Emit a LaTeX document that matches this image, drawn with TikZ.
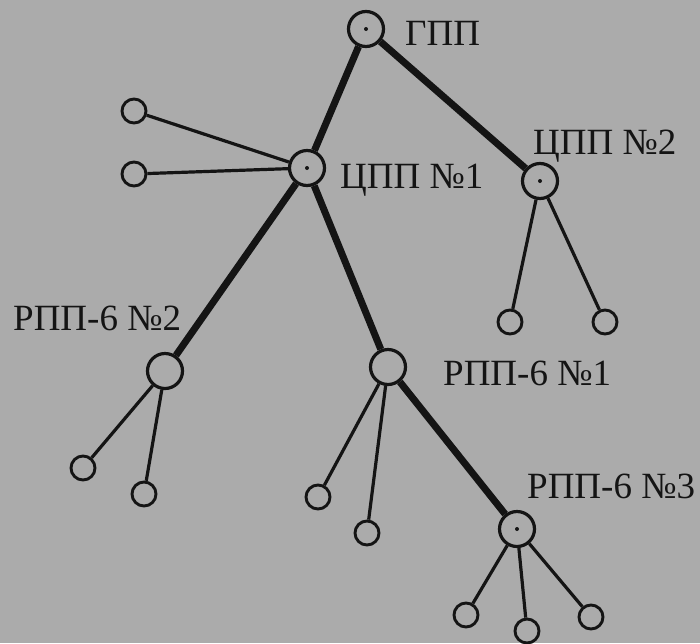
\documentclass[tikz,border=0pt]{standalone}
\usepackage{fontspec}
\setmainfont{Liberation Serif}
\definecolor{paper}{HTML}{ABABAB}
\definecolor{ink}{HTML}{141414}
\begin{document}
\begin{tikzpicture}[x=1pt,y=-1pt,
  hub/.style={circle,draw=ink,line width=3.2pt,minimum size=35pt,inner sep=0pt},
  leaf/.style={circle,draw=ink,line width=2.9pt,minimum size=24pt,inner sep=0pt},
  feeder/.style={draw=ink,line width=7pt},
  branch/.style={draw=ink,line width=3.2pt},
  lbl/.style={anchor=base west,inner sep=0pt,text=ink,font=\fontsize{37}{40}\selectfont},
  centredot/.style={fill=ink,circle,inner sep=0pt,minimum size=4pt}]
\useasboundingbox (0,0) rectangle (700,643);
\fill[paper] (0,0) rectangle (700,643);

% substations
\node[hub] (gpp)  at (366,29)  {};
\node[hub] (cpp1) at (307,168) {};
\node[hub] (cpp2) at (540,181) {};
\node[hub] (rpp2) at (165,371) {};
\node[hub] (rpp1) at (388,367) {};
\node[hub] (rpp3) at (517,529) {};

% consumers
\node[leaf] (c1a) at (134,111) {};
\node[leaf] (c1b) at (134,174) {};
\node[leaf] (c2a) at (510,322) {};
\node[leaf] (c2b) at (605,322) {};
\node[leaf] (r2a) at (83,468)  {};
\node[leaf] (r2b) at (144,494) {};
\node[leaf] (r1a) at (318,497) {};
\node[leaf] (r1b) at (367,533) {};
\node[leaf] (r3a) at (466,615) {};
\node[leaf] (r3b) at (527,631) {};
\node[leaf] (r3c) at (591,617) {};

% centre marks
\foreach \n in {gpp,cpp1,cpp2,rpp3} \node[centredot] at (\n) {};

% main feeders
\draw[feeder] (gpp) -- (cpp1);
\draw[feeder] (gpp) -- (cpp2);
\draw[feeder] (cpp1) -- (rpp2);
\draw[feeder] (cpp1) -- (rpp1);
\draw[feeder] (rpp1) -- (rpp3);

% branch lines
\draw[branch] (cpp1) -- (c1a);
\draw[branch] (cpp1) -- (c1b);
\draw[branch] (cpp2) -- (c2a);
\draw[branch] (cpp2) -- (c2b);
\draw[branch] (rpp2) -- (r2a);
\draw[branch] (rpp2) -- (r2b);
\draw[branch] (rpp1) -- (r1a);
\draw[branch] (rpp1) -- (r1b);
\draw[branch] (rpp3) -- (r3a);
\draw[branch] (rpp3) -- (r3b);
\draw[branch] (rpp3) -- (r3c);

% labels
\node[lbl] (tgpp)  at (405,45)  {ГПП};
\node[lbl] (tcpp1) at (340,188) {ЦПП №1};
\node[lbl] (tcpp2) at (533,154) {ЦПП №2};
\node[lbl] (trpp2) at (13,330)  {РПП-6 №2};
\node[lbl] (trpp1) at (443,385) {РПП-6 №1};
\node[lbl] (trpp3) at (527,498) {РПП-6 №3};
\end{tikzpicture}
\end{document}
